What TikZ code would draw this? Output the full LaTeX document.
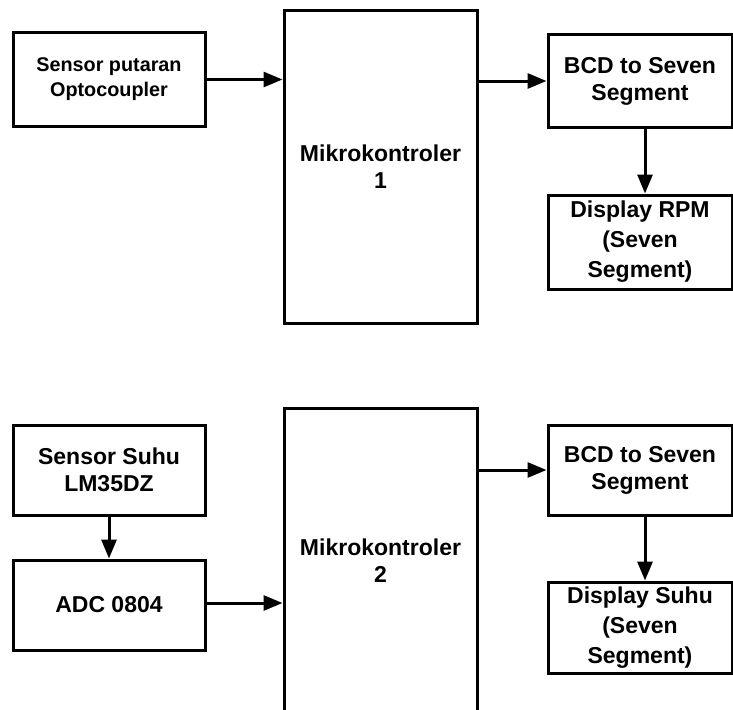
\documentclass[tikz,border=0pt]{standalone}
\usepackage{fontspec}
\setmainfont{Liberation Sans}
\usetikzlibrary{arrows.meta}
\tikzset{
  box/.style={draw, line width=3pt, align=center, inner sep=0pt},
  arr/.style={-{Triangle[length=19pt,width=15pt]}, line width=3pt},
  big/.style={font=\bfseries\fontsize{23}{27}\selectfont},
  small/.style={font=\bfseries\fontsize{19.8}{25}\selectfont},
  disp/.style={font=\bfseries\fontsize{23}{30}\selectfont}
}
\begin{document}
\begin{tikzpicture}[x=1pt,y=-1pt]
\useasboundingbox (0,0) rectangle (733,709);
% top chain
\node[box, small, minimum width=192pt, minimum height=93pt] (sens1) at (109,79.5) {Sensor putaran\\Optocoupler};
\node[box, big, minimum width=193pt, minimum height=312pt] (mk1) at (380.5,167) {Mikrokontroler\\1};
\node[box, big, minimum width=184pt, minimum height=92pt] (bcd1) at (640,81) {BCD to Seven\\Segment};
\node[box, disp, minimum width=184pt, minimum height=94pt] (disp1) at (640,242) {Display RPM\\(Seven\\Segment)};
\draw[arr] (sens1.east) -- (mk1.west |- sens1.east);
\draw[arr] (mk1.east |- bcd1.west) -- (bcd1.west);
\draw[arr] ([xshift=5pt]bcd1.south) -- ([xshift=5pt]bcd1.south |- disp1.north);
% bottom chain
\node[box, big, minimum width=192pt, minimum height=90pt] (sens2) at (109,470) {Sensor Suhu\\LM35DZ};
\node[box, big, minimum width=192pt, minimum height=90pt] (adc) at (109,605) {ADC 0804};
\node[box, big, minimum width=193pt, minimum height=306pt, text depth=0pt] (mk2) at (380.5,561) {Mikrokontroler\\2};
\node[box, big, minimum width=184pt, minimum height=90pt] (bcd2) at (640,470) {BCD to Seven\\Segment};
\node[box, disp, minimum width=184pt, minimum height=91pt] (disp2) at (640,627.5) {Display Suhu\\(Seven\\Segment)};
\draw[arr] (sens2.south) -- (adc.north);
\draw[arr] ([yshift=2pt]adc.east) -- ([yshift=2pt]mk2.west |- adc.east);
\draw[arr] (mk2.east |- bcd2.west) -- (bcd2.west);
\draw[arr] ([xshift=5pt]bcd2.south) -- ([xshift=5pt]bcd2.south |- disp2.north);
\end{tikzpicture}
\end{document}
